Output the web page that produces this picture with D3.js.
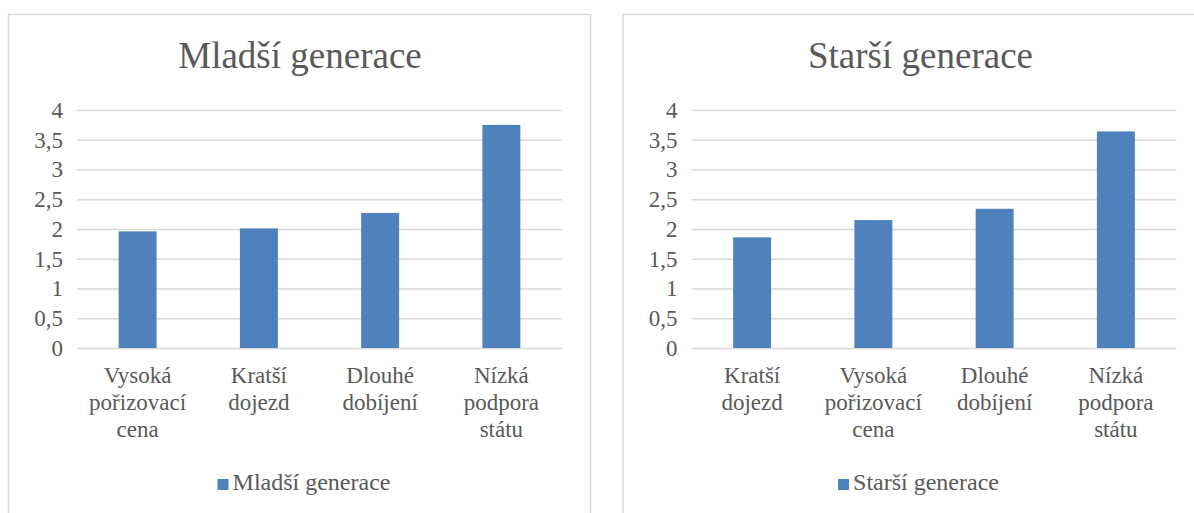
<!DOCTYPE html>
<html>
<head>
<meta charset="utf-8">
<script src="https://cdn.jsdelivr.net/npm/d3@7"></script>
<style>
  body { margin: 0; background: #ffffff; }
  svg { display: block; }
</style>
</head>
<body>
<svg id="chart" width="1194" height="513"></svg>
<script>
// data
var youngTitle = "Mladší generace";
var youngCats = ["Vysoká pořizovací cena", "Kratší dojezd", "Dlouhé dobíjení", "Nízká podpora státu"];
var youngValues = [1.96, 2.01, 2.27, 3.75];

var oldTitle = "Starší generace";
var oldCats = ["Kratší dojezd", "Vysoká pořizovací cena", "Dlouhé dobíjení", "Nízká podpora státu"];
var oldValues = [1.86, 2.15, 2.34, 3.64];

// how the category labels wrap
var catLines = {
	"Vysoká pořizovací cena": ["Vysoká", "pořizovací", "cena"],
	"Kratší dojezd": ["Kratší", "dojezd"],
	"Dlouhé dobíjení": ["Dlouhé", "dobíjení"],
	"Nízká podpora státu": ["Nízká", "podpora", "státu"]
};
var yTicks = [0, 0.5, 1, 1.5, 2, 2.5, 3, 3.5, 4];

var barColor = "#4f81bd";
var gridColor = "#d9d9d9";
var textColor = "#595959";
var serif = "'Liberation Serif', 'Times New Roman', Times, serif";
var svg = d3.select("#chart");

function styleText (sel, size) {
	return sel.style("font-family", serif).style("font-size", size + "px").style("fill", textColor);
}

function drawPanel (x0, titleX, title, cats, values) {
	var g = svg.append("g").attr("transform", "translate(" + x0 + ",0)");
	g.append("rect").attr("x", 0.5).attr("y", 14.5).attr("width", 582).attr("height", 520)
		.attr("fill", "#ffffff").attr("stroke", gridColor).attr("stroke-width", 1.5);

	var left = 69, width = 485, top = 110, bottom = 348;
	var x = d3.scaleBand().domain(cats).range([left, left + width]).paddingInner(0.687).paddingOuter(0.3435);
	var y = d3.scaleLinear().domain([0, 4]).range([bottom, top]);

	styleText(g.append("text").attr("x", titleX).attr("y", 68).attr("text-anchor", "middle"), 37).text(title);

	var yAxis = d3.axisLeft(y).tickValues(yTicks).tickSizeInner(-width).tickSizeOuter(0).tickPadding(14)
		.tickFormat(function (d) { return String(d).replace(".", ","); });
	var ay = g.append("g").attr("transform", "translate(" + left + ",0)").call(yAxis);
	ay.select(".domain").remove();
	ay.selectAll(".tick line").attr("stroke", gridColor).attr("stroke-width", 1.5);
	styleText(ay.selectAll(".tick text").attr("x", -14), 23);

	g.append("g").selectAll("rect").data(cats).join("rect")
		.attr("x", function (d) { return x(d); })
		.attr("y", function (d, i) { return y(values[i]); })
		.attr("width", x.bandwidth())
		.attr("height", function (d, i) { return y(0) - y(values[i]); })
		.attr("fill", barColor);

	var labels = styleText(g.append("g").selectAll("text").data(cats).join("text")
		.attr("text-anchor", "middle"), 23);
	labels.each(function (d) {
		var t = d3.select(this);
		catLines[d].forEach(function (line, k) {
			t.append("tspan").attr("x", x(d) + x.bandwidth() / 2).attr("y", 383 + k * 27).text(line);
		});
	});

	// legend
	var leg = g.append("g");
	var lt = styleText(leg.append("text").attr("x", 15).attr("y", 490), 24).text(title);
	var tw = lt.node().getComputedTextLength();
	leg.append("rect").attr("x", 0).attr("y", 479).attr("width", 11).attr("height", 11).attr("fill", barColor);
	leg.attr("transform", "translate(" + (296 - (15 + tw) / 2) + ",0)");
}

drawPanel(8, 292, youngTitle, youngCats, youngValues);
drawPanel(622.5, 298, oldTitle, oldCats, oldValues);
</script>
</body>
</html>
